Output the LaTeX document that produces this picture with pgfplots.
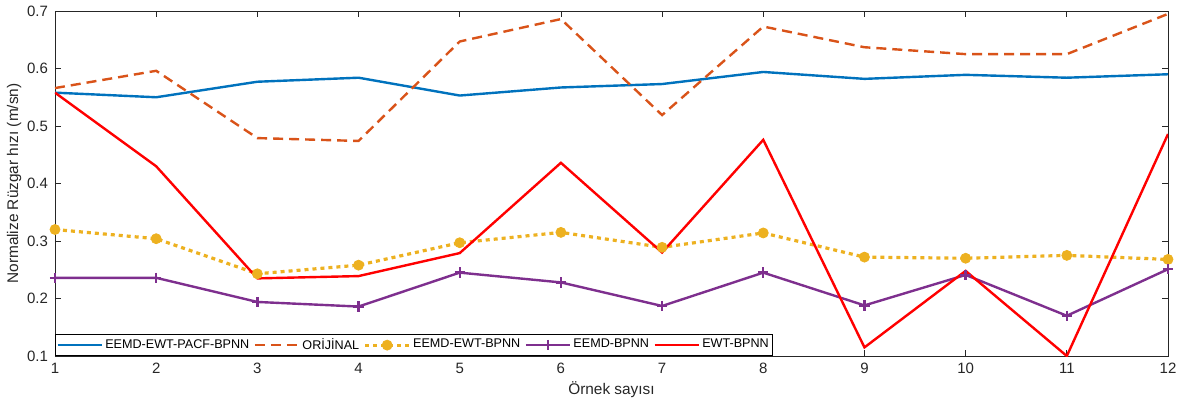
\documentclass[border=0pt]{standalone}
\usepackage{pgfplots}
\pgfplotsset{compat=1.18}
\usepackage{fontspec}
\setmainfont{Liberation Sans}
\definecolor{mblue}{rgb}{0,0.447,0.741}
\definecolor{morange}{rgb}{0.851,0.325,0.098}
\definecolor{myellow}{rgb}{0.929,0.694,0.125}
\definecolor{mpurple}{rgb}{0.494,0.184,0.556}
\definecolor{axgray}{rgb}{0.15,0.15,0.15}
\begin{document}
\begin{tikzpicture}
\useasboundingbox (-27.5pt,-23.5pt) rectangle (563.5pt,178pt);
\begin{axis}[
  at={(0,0)}, anchor=south west,
  scale only axis, width=556.5pt, height=172.5pt,
  xmin=1, xmax=12, ymin=0.1, ymax=0.7,
  xtick={1,...,12}, ytick={0.1,0.2,...,0.7},
  yticklabel style={/pgf/number format/fixed,/pgf/number format/precision=1,/pgf/number format/fixed zerofill},
  /pgf/number format/assume math mode=true,
  tick align=inside, major tick length=3pt,
  tick style={axgray, line width=0.4pt},
  axis line style={axgray, line width=0.4pt},
  ticklabel style={font=\fontsize{7.5}{8.5}\selectfont, text=axgray},
  xlabel={Örnek sayısı}, ylabel={Normalize Rüzgar hızı (m/sn)},
  label style={font=\fontsize{7.7}{8.7}\selectfont, text=axgray},
  xlabel style={yshift=3pt},
  ylabel style={yshift=-4pt},
  legend columns=5,
  legend style={at={(0,0)}, anchor=south west, font=\fontsize{6.3}{7}\selectfont,
    draw=black, line width=0.5pt, inner sep=0.5pt, row sep=0pt,
    nodes={inner sep=1.2pt},
    /tikz/every even column/.append style={column sep=1pt}},
  legend image code/.code={\draw[#1, mark repeat=2, mark phase=2] plot coordinates {(0pt,0pt) (11pt,0pt) (22pt,0pt)};},
  every axis plot/.append style={line width=1.2pt},
]
\addplot[mblue, mark=none] coordinates {(1,0.558)(2,0.550)(3,0.577)(4,0.584)(5,0.553)(6,0.567)(7,0.573)(8,0.594)(9,0.582)(10,0.589)(11,0.584)(12,0.590)};
\addlegendentry{EEMD-EWT-PACF-BPNN}
\addplot[morange, dashed, dash pattern=on 5pt off 3pt, mark=none] coordinates {(1,0.566)(2,0.596)(3,0.479)(4,0.474)(5,0.647)(6,0.686)(7,0.519)(8,0.673)(9,0.637)(10,0.625)(11,0.625)(12,0.695)};
\addlegendentry{ORİJİNAL}
\addplot[myellow, line width=1.6pt, dash pattern=on 2pt off 2pt, mark=*, mark size=2.5pt, mark options={solid, fill=myellow, draw=myellow, line width=0.4pt}] coordinates {(1,0.320)(2,0.304)(3,0.243)(4,0.258)(5,0.297)(6,0.315)(7,0.289)(8,0.314)(9,0.272)(10,0.270)(11,0.275)(12,0.268)};
\addlegendentry{EEMD-EWT-BPNN}
\addplot[mpurple, mark=+, mark size=2.6pt, mark options={solid, line width=1.2pt}] coordinates {(1,0.236)(2,0.236)(3,0.194)(4,0.186)(5,0.245)(6,0.228)(7,0.187)(8,0.245)(9,0.188)(10,0.241)(11,0.170)(12,0.251)};
\addlegendentry{EEMD-BPNN}
\addplot[red, mark=none] coordinates {(1,0.558)(2,0.430)(3,0.235)(4,0.239)(5,0.279)(6,0.436)(7,0.280)(8,0.476)(9,0.115)(10,0.248)(11,0.100)(12,0.486)};
\addlegendentry{EWT-BPNN}
\end{axis}
\end{tikzpicture}
\end{document}
